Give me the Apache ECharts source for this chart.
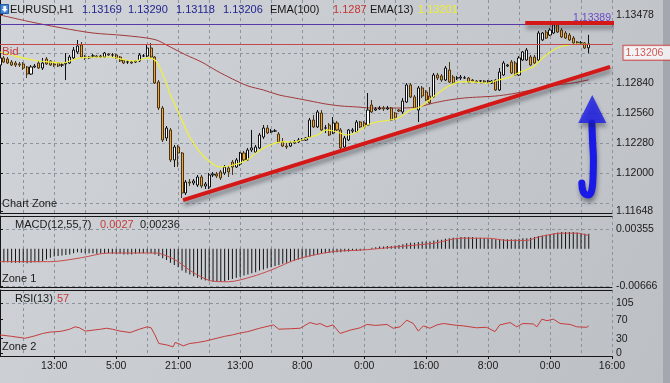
<!DOCTYPE html>
<html><head><meta charset="utf-8">
<script src="https://cdn.jsdelivr.net/npm/echarts@6/dist/echarts.min.js"></script>
<style>html,body{margin:0;padding:0;background:#c6cacf}#c{width:670px;height:383px}</style>
</head><body><div id="c"></div>
<script>
// ---------- data ----------
const headerItems = ['EURUSD,H1', '1.13169', '1.13290', '1.13118', '1.13206', 'EMA(100)', '1.1287', 'EMA(13)', '1.13201'];
const macdTitle = ['MACD(12,55,7)', '0.0027', '0.00236'];
const rsiTitle = ['RSI(13)', '57'];
const zoneNames = ['Chart Zone', 'Zone 1', 'Zone 2'];
const tickLabels = ['13:00', '5:00', '21:00', '13:00', '8:00', '0:00', '16:00', '8:00', '0:00', '16:00'];
const priceLabels = [1.13478, 1.12840, 1.12560, 1.12280, 1.12000, 1.11648];
const priceGrid = [1.13120, 1.12840, 1.12560, 1.12280, 1.12000, 1.11720];
const macdLabels = [0.00355, -0.00666];
const rsiLabels = [105, 70, 30, 0];
const rsiGrid = [105];
const bidPrice = 1.13206;
const bidText = '1.13206';
const upperLevel = 1.13389;
const upperText = '1.13389';

// candles: [open, close, low, high], one per hourly bar
const candles = [
[1.13008,1.13074,1.12999,1.13092],[1.13074,1.13036,1.13027,1.13092],[1.13064,1.13027,1.13018,1.13083],[1.13036,1.13008,1.12999,1.13055],
[1.13027,1.13008,1.12990,1.13046],[1.13018,1.13008,1.12990,1.13036],[1.13018,1.12980,1.12962,1.13036],[1.12990,1.12924,1.12887,1.12999],
[1.12924,1.12990,1.12915,1.13008],[1.12990,1.12999,1.12980,1.13018],[1.13027,1.12980,1.12971,1.13046],[1.12980,1.13027,1.12962,1.13074],
[1.13064,1.13018,1.13008,1.13083],[1.13046,1.13008,1.12999,1.13055],[1.13018,1.13008,1.12990,1.13036],[1.13027,1.12999,1.12990,1.13036],
[1.13008,1.13009,1.12990,1.13027],[1.13018,1.13027,1.12868,1.13120],[1.13027,1.13083,1.13018,1.13102],[1.13074,1.13148,1.13064,1.13176],
[1.13130,1.13186,1.13111,1.13242],[1.13195,1.13083,1.13074,1.13223],[1.13083,1.13074,1.13055,1.13102],[1.13083,1.13074,1.13064,1.13092],
[1.13092,1.13093,1.13074,1.13111],[1.13092,1.13083,1.13074,1.13102],[1.13083,1.13092,1.13074,1.13102],[1.13083,1.13120,1.13074,1.13130],
[1.13111,1.13102,1.13092,1.13120],[1.13102,1.13103,1.13083,1.13120],[1.13102,1.13074,1.13064,1.13111],[1.13083,1.13046,1.13036,1.13092],
[1.13055,1.13027,1.13018,1.13064],[1.13036,1.13037,1.13018,1.13055],[1.13036,1.13027,1.13018,1.13046],[1.13036,1.13046,1.13027,1.13055],
[1.13046,1.13102,1.13036,1.13120],[1.13092,1.13093,1.13083,1.13111],[1.13092,1.13167,1.13083,1.13204],[1.13167,1.13083,1.13074,1.13214],
[1.13083,1.12840,1.12831,1.13092],[1.12850,1.12607,1.12588,1.12868],[1.12607,1.12308,1.12290,1.12626],[1.12327,1.12420,1.12299,1.12439],
[1.12402,1.12122,1.12103,1.12420],[1.12122,1.12243,1.12056,1.12262],[1.12243,1.12187,1.12056,1.12262],[1.12187,1.11814,1.11767,1.12196],
[1.11814,1.11916,1.11795,1.11935],[1.11916,1.11907,1.11879,1.11944],[1.11907,1.11926,1.11888,1.11944],[1.11888,1.11963,1.11870,1.11982],
[1.11963,1.11879,1.11860,1.11982],[1.11879,1.11898,1.11851,1.11916],[1.11870,1.11982,1.11851,1.12000],[1.11982,1.11991,1.11963,1.12010],
[1.11991,1.11972,1.11954,1.12010],[1.12010,1.11954,1.11935,1.12028],[1.12000,1.12056,1.11982,1.12075],[1.12047,1.12010,1.11963,1.12066],
[1.12103,1.12056,1.11982,1.12122],[1.12056,1.12122,1.12047,1.12140],[1.12084,1.12187,1.12066,1.12196],[1.12187,1.12122,1.12112,1.12206],
[1.12122,1.12215,1.12112,1.12234],[1.12215,1.12234,1.12196,1.12402],[1.12196,1.12243,1.12187,1.12262],[1.12234,1.12355,1.12224,1.12374],
[1.12336,1.12420,1.12318,1.12448],[1.12420,1.12374,1.12364,1.12448],[1.12383,1.12392,1.12374,1.12411],[1.12392,1.12393,1.12383,1.12411],
[1.12364,1.12290,1.12280,1.12383],[1.12290,1.12252,1.12243,1.12327],[1.12252,1.12243,1.12224,1.12280],[1.12252,1.12280,1.12243,1.12299],
[1.12280,1.12290,1.12271,1.12308],[1.12290,1.12308,1.12280,1.12327],[1.12308,1.12309,1.12299,1.12327],[1.12308,1.12327,1.12299,1.12336],
[1.12336,1.12495,1.12327,1.12514],[1.12495,1.12430,1.12420,1.12542],[1.12430,1.12570,1.12420,1.12588],[1.12560,1.12402,1.12392,1.12588],
[1.12420,1.12421,1.12374,1.12448],[1.12448,1.12355,1.12346,1.12467],[1.12374,1.12467,1.12364,1.12523],[1.12467,1.12402,1.12392,1.12486],
[1.12402,1.12234,1.12224,1.12420],[1.12243,1.12327,1.12234,1.12346],[1.12308,1.12402,1.12299,1.12411],[1.12392,1.12402,1.12374,1.12420],
[1.12383,1.12476,1.12374,1.12495],[1.12476,1.12430,1.12420,1.12486],[1.12467,1.12430,1.12420,1.12486],[1.12448,1.12588,1.12439,1.12747],
[1.12635,1.12570,1.12560,1.12682],[1.12588,1.12598,1.12579,1.12616],[1.12598,1.12607,1.12588,1.12626],[1.12607,1.12598,1.12579,1.12626],
[1.12598,1.12607,1.12588,1.12626],[1.12607,1.12495,1.12486,1.12616],[1.12560,1.12514,1.12495,1.12570],[1.12588,1.12579,1.12570,1.12598],
[1.12570,1.12672,1.12551,1.12700],[1.12663,1.12822,1.12654,1.12840],[1.12822,1.12710,1.12700,1.12840],[1.12710,1.12607,1.12598,1.12728],
[1.12588,1.12794,1.12476,1.12812],[1.12794,1.12719,1.12700,1.12812],[1.12756,1.12682,1.12672,1.12775],[1.12719,1.12654,1.12644,1.12803],
[1.12710,1.12915,1.12700,1.12934],[1.12915,1.12887,1.12868,1.12934],[1.12906,1.12868,1.12850,1.12924],[1.12868,1.12980,1.12859,1.12999],
[1.12962,1.12850,1.12840,1.13036],[1.12896,1.12840,1.12831,1.12915],[1.12887,1.12888,1.12868,1.12906],[1.12887,1.12896,1.12868,1.12915],
[1.12887,1.12888,1.12878,1.12906],[1.12887,1.12850,1.12840,1.12896],[1.12868,1.12859,1.12850,1.12878],[1.12859,1.12850,1.12840,1.12868],
[1.12859,1.12860,1.12840,1.12868],[1.12859,1.12850,1.12840,1.12868],[1.12850,1.12859,1.12840,1.12868],[1.12840,1.12859,1.12831,1.12868],
[1.12868,1.12775,1.12766,1.12878],[1.12775,1.12943,1.12766,1.12980],[1.12915,1.13027,1.12906,1.13046],[1.12999,1.13008,1.12990,1.13018],
[1.13036,1.12934,1.12924,1.13055],[1.13027,1.12915,1.12906,1.13046],[1.12915,1.13074,1.12906,1.13092],[1.13055,1.13130,1.13046,1.13139],
[1.13055,1.13148,1.13046,1.13167],[1.13083,1.13008,1.12999,1.13102],[1.13083,1.13027,1.13018,1.13102],[1.13055,1.13307,1.13036,1.13326],
[1.13242,1.13307,1.13232,1.13316],[1.13316,1.13260,1.13251,1.13335],[1.13288,1.13335,1.13279,1.13354],[1.13307,1.13382,1.13298,1.13400],
[1.13382,1.13316,1.13307,1.13400],[1.13335,1.13270,1.13260,1.13354],[1.13307,1.13260,1.13251,1.13326],[1.13288,1.13242,1.13232,1.13307],
[1.13260,1.13214,1.13204,1.13279],[1.13223,1.13214,1.13204,1.13232],[1.13214,1.13215,1.13195,1.13232],[1.13214,1.13167,1.13158,1.13223],
[1.13169,1.13206,1.13118,1.13290]
];

// EMA lines read at points: [bar, price]
const ema13 = [[0,1.13130],[3.9,1.13092],[8.5,1.13055],[12.9,1.13036],[16.3,1.13027],[18,1.13046],[20.7,1.13074],[28.4,1.13083],
[32.3,1.13055],[34.9,1.13046],[38,1.13074],[40,1.13055],[41.3,1.12980],[43,1.12831],[44,1.12728],[45.2,1.12635],[46.5,1.12532],
[49,1.12336],[51.6,1.12196],[54.2,1.12103],[56.8,1.12056],[60.2,1.12075],[63.8,1.12122],[66.4,1.12196],[69.7,1.12262],[73,1.12290],
[75.7,1.12290],[79.3,1.12327],[81.9,1.12355],[84.4,1.12402],[87,1.12383],[89.6,1.12355],[92.2,1.12383],[94.8,1.12448],[97.3,1.12476],
[100.7,1.12495],[103.3,1.12523],[105.9,1.12588],[108.4,1.12616],[111.8,1.12710],[115.4,1.12803],[118.8,1.12850],[122.1,1.12850],
[125.7,1.12840],[128.6,1.12868],[131.7,1.12896],[134.3,1.12943],[137.6,1.12990],[138.7,1.13027],[140.7,1.13092],[142.8,1.13148],
[145.4,1.13186],[149,1.13204],[152,1.13201]];
const ema100 = [[0,1.13475],[8,1.13410],[16,1.13354],[24,1.13307],[32,1.13284],[40,1.13246],[44,1.13176],[48,1.13102],[52,1.13037],
[56,1.12953],[60,1.12878],[64,1.12813],[68,1.12775],[72,1.12729],[76,1.12701],[80,1.12673],[84,1.12645],[88,1.12626],[92,1.12617],
[96,1.12607],[100,1.12607],[104,1.12607],[108,1.12617],[112,1.12654],[116,1.12682],[120,1.12701],[124,1.12710],[128,1.12719],
[132,1.12738],[136,1.12766],[140,1.12794],[144,1.12822],[148,1.12841],[152,1.12870]];

// MACD main (histogram), one per bar
const macdHist = [
-0.0024,-0.0024,-0.0024,-0.0025,-0.0025,-0.0025,-0.0025,-0.0026,-0.0025,-0.0024,-0.0024,
-0.0022,-0.0019,-0.0016,-0.0014,-0.0013,-0.0012,-0.0011,-0.0010,-0.0008,-0.0006,-0.0007,
-0.0008,-0.0008,-0.0008,-0.0009,-0.0008,-0.0008,-0.0008,-0.0009,
-0.0009,-0.0009,-0.0010,-0.0010,-0.0010,-0.0009,-0.0008,-0.0008,-0.0007,-0.0008,
-0.0010,-0.0013,-0.0017,-0.0020,-0.0025,-0.0029,-0.0033,-0.0039,-0.0043,-0.0046,
-0.0049,-0.0052,-0.0055,-0.0057,-0.0058,-0.0059,-0.0059,-0.0059,-0.0058,-0.0056,
-0.0054,-0.0052,-0.0050,-0.0048,-0.0046,-0.0044,-0.0042,-0.0039,-0.0037,-0.0035,
-0.0033,-0.0031,-0.0029,-0.0027,-0.0025,-0.0023,-0.0021,-0.0019,-0.0017,-0.0015,
-0.0014,-0.0012,-0.0010,-0.0009,-0.0008,-0.0007,-0.0007,-0.0006,-0.0006,-0.0005,
-0.0005,-0.0004,-0.0004,-0.0003,-0.0002,0.0000,0.0002,0.0003,0.0004,0.0004,
0.0005,0.0005,0.0006,0.0007,0.0008,0.0010,0.0011,0.0011,0.0012,0.0013,
0.0013,0.0013,0.0015,0.0016,0.0016,0.0018,0.0019,0.0020,0.0020,0.0021,
0.0021,0.0021,0.0021,0.0020,0.0020,0.0019,0.0019,0.0018,0.0017,0.0016,
0.0017,0.0017,0.0017,0.0017,0.0018,0.0019,0.0019,0.0020,0.0021,0.0023,
0.0024,0.0025,0.0026,0.0028,0.0029,0.0030,0.0030,0.0030,0.0030,0.0029,
0.0028,0.0027,0.0027];
const macdSignal = [[0,-0.0023],[13,-0.0023],[21,-0.0016],[28,-0.00075],[40,-0.00075],[45,-0.0019],[50,-0.0043],[55,-0.0058],
[59,-0.0059],[65,-0.0050],[70,-0.0038],[77,-0.0018],[86,-0.0005],[94,-0.0002],[103,0.0004],[112,0.0010],[119,0.0019],
[126,0.0019],[131,0.0015],[136,0.0015],[139,0.0021],[145,0.0028],[149,0.0028],[152,0.00236]];
const rsi = [[0,38],[3,35],[6.5,31],[9,36],[11,41],[13,44],[15,45],[16,46],[18,50],[19.4,55],[20.5,53],[22,46],[24,48],[26,50],
[27.5,52],[29,50],[31,46],[33.6,43],[36,50],[38,55],[39,53],[40,38],[41,20],[43,17],[44.7,13],[45.2,22],[46,20],[47.3,15],[49,20],
[51,22],[53,25],[56,31],[58,35],[60,38],[62,42],[64,45],[67,52],[70.6,59],[72,50],[75,51],[77.5,52],[80,64],[81.8,60],[82.6,62],
[84.4,55],[86,59],[87.8,41],[90.4,48],[93,53],[94.7,60],[97,58],[99.9,60],[101.5,52],[103.3,55],[105,69],[106.7,62],[108,46],
[109.3,57],[111,52],[112.8,59],[114.5,62],[117,59],[119.6,57],[123,53],[125.6,54],[127.8,45],[129,59],[131.7,64],[133.4,55],
[135,62],[137.7,61],[138.6,55],[139.9,71],[141.2,68],[142.9,71],[144.6,62],[147.2,60],[148.9,55],[151.5,54],[152,57]];

// drawn objects: [bar, price]
const supportLine = [[47.25, 1.11748], [157.5, 1.12990]];
const resistanceLine = [[135.6, 1.13400], [159.3, 1.13400]];
const arrowShaft = [[152.8,1.12467],[153.0,1.12280],[153.2,1.12122],[153.1,1.11963],[152.8,1.11842],[151.9,1.11795],[150.6,1.11823],[150.2,1.11907]];
const arrowHead = [[152.9, 1.12598]];

// ---------- categories (hourly bars, weekend gap) ----------
const N = 159;
const cats = [];
for (let j = 0; j < N; j++) {
  const i = j - 1;
  const h = i <= 68 ? i : i + 3;
  cats.push((((h % 24) + 24) % 24) + ':00');
}

const F = "'Liberation Sans',Arial,sans-serif";
const AX = '#161616';
const GRIDC = '#8b949d';
const vSplit = (idx) => idx >= 6 && (idx - 6) % 8 === 0;
const labIdx = (idx) => idx >= 14 && (idx - 14) % 16 === 0;

function catAxis(g, withLabels) {
  return {
    type: 'category', gridIndex: g, data: cats, boundaryGap: false,
    axisLine: { show: true, onZero: false, lineStyle: { color: AX, width: 1 } },
    axisTick: withLabels ? { show: true, interval: labIdx, length: 3, inside: false, lineStyle: { color: AX } } : { show: false },
    axisLabel: withLabels ? {
      show: true, interval: labIdx, margin: 5, color: '#1a1a1a', fontFamily: F, fontSize: 10.5,
      formatter: (v, idx) => { const k = (idx - 14) / 16; return tickLabels[k] !== undefined ? tickLabels[k] : v; }
    } : { show: false },
    splitLine: { show: true, interval: vSplit, lineStyle: { color: GRIDC, type: [3, 3], width: 1 } }
  };
}
function valAxis(g, topLine) {
  return {
    type: 'value', gridIndex: g, min: 0, max: N - 1, position: 'top', show: !!topLine,
    axisLine: { show: !!topLine, onZero: false, lineStyle: { color: AX } },
    axisTick: { show: false }, axisLabel: { show: false }, splitLine: { show: false }
  };
}
const yLabelStyle = { color: '#1a1a1a', fontFamily: F, fontSize: 10.5, margin: 4 };
const shadow = { shadowColor: 'rgba(30,30,40,0.45)', shadowBlur: 4, shadowOffsetX: 1, shadowOffsetY: 4 };

const chart = echarts.init(document.getElementById('c'), null, { renderer: 'canvas', width: 670, height: 383 });

const hx = [10, 82, 128, 176, 223, 270, 333, 370, 418];
const hc = ['#161616', '#23238c', '#23238c', '#23238c', '#23238c', '#161616', '#c83232', '#161616', '#eeee30'];
const graphics = [
  { type: 'rect', shape: { x: 663, y: 0, width: 7, height: 383 }, style: { fill: '#a4a8ae' }, z: 1 },
  { type: 'rect', shape: { x: 0.5, y: 4.5, width: 8, height: 9 }, style: { fill: '#3f88dc', stroke: '#2a5aa0', lineWidth: 1 }, z: 10 },
  { type: 'polygon', shape: { points: [[3.3,6],[6.2,6],[6.2,9],[7.8,9],[4.75,12.3],[1.7,9],[3.3,9]] }, style: { fill: '#ffffff' }, z: 11 }
];
headerItems.forEach((t, k) => graphics.push({ type: 'text', z: 10, style: { text: t, x: hx[k], y: 10, fill: hc[k], fontFamily: F, fontSize: 11, verticalAlign: 'middle' } }));
graphics.push({ type: 'text', z: 10, style: { text: zoneNames[0], x: 2, y: 204, fill: '#1a1a1a', fontFamily: F, fontSize: 11, verticalAlign: 'middle' } });
graphics.push({ type: 'text', z: 10, style: { text: zoneNames[1], x: 2, y: 279, fill: '#1a1a1a', fontFamily: F, fontSize: 11, verticalAlign: 'middle' } });
graphics.push({ type: 'text', z: 10, style: { text: zoneNames[2], x: 2, y: 347, fill: '#1a1a1a', fontFamily: F, fontSize: 11, verticalAlign: 'middle' } });
[[macdTitle[0], 15, '#1a1a1a'], [macdTitle[1], 100, '#c83a3a'], [macdTitle[2], 140, '#1a1a1a']].forEach(a =>
  graphics.push({ type: 'text', z: 10, style: { text: a[0], x: a[1], y: 225, fill: a[2], fontFamily: F, fontSize: 11, verticalAlign: 'middle' } }));
[[rsiTitle[0], 15, '#1a1a1a'], [rsiTitle[1], 57, '#c83a3a']].forEach(a =>
  graphics.push({ type: 'text', z: 10, style: { text: a[0], x: a[1], y: 299, fill: a[2], fontFamily: F, fontSize: 11, verticalAlign: 'middle' } }));

const option = {
  animation: false,
  backgroundColor: { type: 'linear', x: 0, y: 0, x2: 1, y2: 1, colorStops: [{ offset: 0, color: '#d1d5d9' }, { offset: 1, color: '#bcc0c5' }] },
  grid: [
    { left: 0, right: 58, top: 0, height: 213, outerBoundsMode: 'none' },
    { left: 0, right: 58, top: 216, height: 71, outerBoundsMode: 'none' },
    { left: 0, right: 58, top: 290, height: 66, outerBoundsMode: 'none' }
  ],
  xAxis: [catAxis(0, false), valAxis(0, false), catAxis(1, false), valAxis(1, true), catAxis(2, true), valAxis(2, true)],
  yAxis: [
    { type: 'value', gridIndex: 0, position: 'right', min: 1.11627, max: 1.13615,
      axisLine: { show: true, lineStyle: { color: AX } },
      axisTick: { show: true, length: 3, customValues: priceLabels, lineStyle: { color: AX } },
      axisLabel: Object.assign({ customValues: priceLabels, formatter: v => v.toFixed(5) }, yLabelStyle),
      splitLine: { show: false } },
    { type: 'value', gridIndex: 0, position: 'right', min: 1.11627, max: 1.13615,
      axisLine: { show: false }, axisLabel: { show: false },
      axisTick: { show: false, customValues: priceGrid },
      splitLine: { show: true, lineStyle: { color: GRIDC, type: [3, 3], width: 1 } } },
    { type: 'value', gridIndex: 1, position: 'right', min: -0.006842, max: 0.005875,
      axisLine: { show: true, lineStyle: { color: AX } },
      axisTick: { show: true, length: 3, customValues: macdLabels, lineStyle: { color: AX } },
      axisLabel: Object.assign({ customValues: macdLabels, formatter: v => v.toFixed(5) }, yLabelStyle),
      splitLine: { show: true, lineStyle: { color: GRIDC, type: [3, 3], width: 1 } } },
    { type: 'value', gridIndex: 2, position: 'right', min: -6.3, max: 132.35,
      axisLine: { show: true, lineStyle: { color: AX } },
      axisTick: { show: true, length: 3, customValues: rsiLabels, lineStyle: { color: AX } },
      axisLabel: Object.assign({ customValues: rsiLabels, formatter: v => String(Math.round(v)) }, yLabelStyle),
      splitLine: { show: false } },
    { type: 'value', gridIndex: 2, position: 'right', min: -6.3, max: 132.35,
      axisLine: { show: false }, axisLabel: { show: false },
      axisTick: { show: false, customValues: rsiGrid },
      splitLine: { show: true, lineStyle: { color: GRIDC, type: [3, 3], width: 1 } } }
  ],
  graphic: graphics,
  series: [
    { type: 'candlestick', xAxisIndex: 0, yAxisIndex: 0, data: candles, barWidth: 2.6, z: 3,
      itemStyle: { color: '#ffffff', color0: '#eca63a', borderColor: '#111111', borderColor0: '#4a3412', borderWidth: 1 } },
    { type: 'line', xAxisIndex: 1, yAxisIndex: 0, data: ema100, smooth: 0.3, symbol: 'none', z: 2,
      lineStyle: { color: '#a23838', width: 1 },
      markLine: { silent: true, symbol: ['none', 'none'], animation: false, precision: 5,
        data: [
          { yAxis: bidPrice, lineStyle: { color: '#c44a4a', width: 1, type: 'solid' },
            label: { show: true, position: 'insideStartBottom', formatter: 'Bid', color: '#cc3a3a', fontFamily: F, fontSize: 11.5, distance: 2 } },
          { yAxis: upperLevel, lineStyle: { color: '#5838a8', width: 1, type: 'solid' },
            label: { show: true, position: 'insideEndTop', formatter: upperText, color: '#6a48c8', fontFamily: F, fontSize: 10.5, distance: 1 } }
        ] } },
    { type: 'line', xAxisIndex: 1, yAxisIndex: 0, data: ema13, smooth: 0.3, symbol: 'none', z: 4,
      lineStyle: { color: '#f0f03a', width: 1.2 } },
    { type: 'line', xAxisIndex: 1, yAxisIndex: 0, data: supportLine, symbol: 'none', z: 5, clip: false,
      lineStyle: Object.assign({ color: '#d41818', width: 4 }, shadow) },
    { type: 'line', xAxisIndex: 1, yAxisIndex: 0, data: resistanceLine, symbol: 'none', z: 5, clip: false,
      lineStyle: Object.assign({ color: '#d41818', width: 4 }, shadow) },
    { type: 'line', xAxisIndex: 1, yAxisIndex: 0, data: arrowShaft, smooth: 0.5, symbol: 'none', z: 6, clip: false,
      lineStyle: Object.assign({ color: '#1a1ae8', width: 7, cap: 'round' }, shadow) },
    { type: 'scatter', xAxisIndex: 1, yAxisIndex: 0, data: arrowHead, symbol: 'triangle', symbolSize: [28, 28], z: 6, clip: false,
      itemStyle: Object.assign({ color: '#1a1ae8' }, shadow) },
    { type: 'scatter', xAxisIndex: 1, yAxisIndex: 0, data: [[N - 1, bidPrice]], symbolSize: 1, z: 8, clip: false, silent: true,
      itemStyle: { color: 'rgba(0,0,0,0)' },
      label: { show: true, position: 'right', distance: 11, offset: [0, 9], formatter: bidText, color: '#c83030',
        backgroundColor: '#ffffff', borderColor: '#c83030', borderWidth: 1, padding: [2, 12, 1, 2], fontFamily: F, fontSize: 10.5 } },
    { type: 'bar', xAxisIndex: 2, yAxisIndex: 2, data: macdHist, barWidth: 1, z: 3,
      itemStyle: { color: '#141414' } },
    { type: 'line', xAxisIndex: 3, yAxisIndex: 2, data: macdSignal, smooth: 0.3, symbol: 'none', z: 4,
      lineStyle: { color: '#c84a4a', width: 1 } },
    { type: 'line', xAxisIndex: 5, yAxisIndex: 3, data: rsi, symbol: 'none', z: 4,
      lineStyle: { color: '#c43c3c', width: 1 } }
  ]
};
chart.setOption(option);
</script>
</body></html>
